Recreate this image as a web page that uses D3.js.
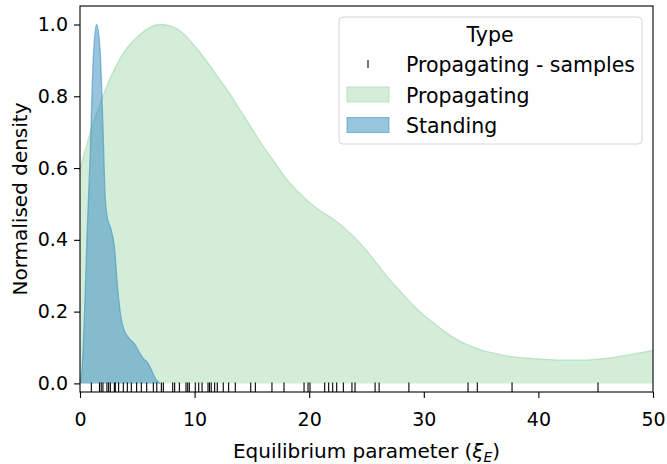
<!DOCTYPE html>
<html>
<head>
<meta charset="utf-8">
<script src="https://cdn.jsdelivr.net/npm/d3@7"></script>
<style>
  body { margin: 0; background: #fff; }
  text { font-family: "DejaVu Sans", sans-serif; fill: #000; }
</style>
</head>
<body>
<div id="chart"></div>
<script>
// data
var propX = [0, 1, 2, 3, 4, 5, 6, 7, 8, 9, 10, 11, 12, 13, 14, 15, 16, 17, 18, 19, 20,
             21, 22, 23, 24, 25, 26, 27, 28, 29, 30, 31, 32, 33, 34, 35, 36, 37, 38, 39, 40,
             42, 44, 46, 48, 50];
var propY = [0.594, 0.71, 0.80, 0.875, 0.93, 0.965, 0.99, 1.0, 0.995, 0.975, 0.94, 0.90, 0.855,
             0.81, 0.76, 0.71, 0.66, 0.615, 0.57, 0.535, 0.505, 0.48, 0.46, 0.435, 0.405, 0.37,
             0.33, 0.29, 0.255, 0.22, 0.19, 0.165, 0.14, 0.12, 0.105, 0.093, 0.085, 0.078, 0.073,
             0.07, 0.068, 0.065, 0.065, 0.07, 0.08, 0.092];

var standX = [0, 0.2, 0.4, 0.6, 0.9, 1.15, 1.45, 1.75, 2.0, 2.2, 2.4, 2.7, 3.0, 3.3, 3.6, 3.9,
              4.3, 4.8, 5.2, 5.5, 5.9, 6.2, 6.6, 7.0];
var standY = [0, 0.05, 0.2, 0.4, 0.65, 0.9, 1.0, 0.93, 0.72, 0.52, 0.46, 0.43, 0.38, 0.26, 0.18,
              0.145, 0.125, 0.108, 0.085, 0.07, 0.058, 0.04, 0.012, 0];

var samples = [0.99, 1.7, 1.85, 2.0, 2.35, 2.5, 2.65, 3.0, 3.08, 3.37, 3.78, 4.13, 4.48, 4.94,
               5.35, 5.82, 6.4, 6.7, 7.1, 7.27, 8.09, 8.26, 8.67, 9.25, 9.4, 9.54, 10.06, 10.36,
               10.65, 11.17, 11.3, 11.45, 11.75, 11.98, 12.5, 12.97, 13.55, 14.9, 15.3, 16.75,
               17.8, 19.55, 19.9, 20.07, 21.35, 21.7, 22.05, 22.4, 22.98, 23.73, 24.0, 25.75,
               26.1, 28.7, 33.86, 34.67, 37.7, 45.2];

var xTicks = [0, 10, 20, 30, 40, 50];
var yTicks = [0, 0.2, 0.4, 0.6, 0.8, 1.0];
var legendLabels = ["Propagating - samples", "Propagating", "Standing"];

// set the dimensions and margins of the graph
var margin = {top: 6, right: 14, bottom: 72, left: 80},
    width = 667 - margin.left - margin.right,
    height = 464 - margin.top - margin.bottom;

var svg = d3.select("#chart")
  .append("svg")
    .attr("width", 667)
    .attr("height", 464)
  .append("g")
    .attr("transform", "translate(" + margin.left + "," + margin.top + ")");

var x = d3.scaleLinear().domain([0, 50]).range([0, width]);
var y = d3.scaleLinear().domain([-0.024, 1.0515]).range([height, 0]);

var area = d3.area()
  .x(function(d) { return x(d[0]); })
  .y0(y(0))
  .y1(function(d) { return y(d[1]); })
  .curve(d3.curveMonotoneX);
var line = d3.line()
  .x(function(d) { return x(d[0]); })
  .y(function(d) { return y(d[1]); })
  .curve(d3.curveMonotoneX);

var propData = propX.map(function(v, i) { return [v, propY[i]]; });
var standData = standX.map(function(v, i) { return [v, standY[i]]; });

// Propagating
svg.append("path").datum(propData)
  .attr("d", area)
  .attr("fill", "#aadcb4").attr("fill-opacity", 0.5);
svg.append("path").datum(propData)
  .attr("d", line)
  .attr("fill", "none").attr("stroke", "#aadcb4").attr("stroke-opacity", 0.7)
  .attr("stroke-width", 1.3);

// Standing
svg.append("path").datum(standData)
  .attr("d", area)
  .attr("fill", "#4393c3").attr("fill-opacity", 0.55);
svg.append("path").datum(standData)
  .attr("d", line)
  .attr("fill", "none").attr("stroke", "#4393c3").attr("stroke-opacity", 0.6)
  .attr("stroke-width", 1.3);

// rug of samples
svg.selectAll("myrug")
  .data(samples)
  .enter()
  .append("line")
    .attr("x1", function(d) { return x(d); })
    .attr("x2", function(d) { return x(d); })
    .attr("y1", height)
    .attr("y2", height - 9.5)
    .attr("stroke", "#000")
    .attr("stroke-width", 1.1);

// axes
svg.append("g")
  .attr("transform", "translate(0," + height + ")")
  .call(d3.axisBottom(x).tickValues(xTicks).tickSize(6).tickPadding(15).tickFormat(d3.format("d")));
svg.append("g")
  .call(d3.axisLeft(y).tickValues(yTicks).tickSize(6).tickPadding(6).tickFormat(d3.format(".1f")));
svg.selectAll(".domain").remove();
svg.selectAll(".tick line").attr("stroke", "#000").attr("stroke-width", 1.1);
svg.selectAll(".tick text")
  .style("font-size", "19px")
  .style("font-family", "DejaVu Sans");

// frame
svg.append("rect")
  .attr("x", 0).attr("y", 0)
  .attr("width", width).attr("height", height)
  .attr("fill", "none").attr("stroke", "#000").attr("stroke-width", 1.1);

// axis labels
var xl = svg.append("text")
  .attr("x", width / 2).attr("y", height + 66)
  .attr("text-anchor", "middle")
  .style("font-size", "20px");
xl.append("tspan").text("Equilibrium parameter (");
xl.append("tspan").text("ξ").style("font-style", "italic");
xl.append("tspan").text("E").style("font-style", "italic").style("font-size", "14px").attr("dy", 4);
xl.append("tspan").text(")").attr("dy", -4);

svg.append("text")
  .attr("transform", "translate(" + (-53) + "," + (height / 2) + ")rotate(-90)")
  .attr("text-anchor", "middle")
  .style("font-size", "20px")
  .text("Normalised density");

// legend
var lg = svg.append("g").attr("transform", "translate(" + (339 - margin.left) + "," + (17 - margin.top) + ")");
lg.append("rect")
  .attr("width", 303).attr("height", 127).attr("rx", 4)
  .attr("fill", "#fff").attr("fill-opacity", 0.8)
  .attr("stroke", "#d6d6d6").attr("stroke-width", 1);
lg.append("text")
  .attr("x", 151).attr("y", 25)
  .attr("text-anchor", "middle")
  .style("font-size", "20.5px")
  .text("Type");
lg.selectAll("mylabels")
  .data(legendLabels)
  .enter()
  .append("text")
    .attr("x", 67)
    .attr("y", function(d, i) { return 55 + i * 30.5; })
    .style("font-size", "20.5px")
    .text(function(d) { return d; });
lg.append("line")
  .attr("x1", 29).attr("x2", 29).attr("y1", 43).attr("y2", 51)
  .attr("stroke", "#000").attr("stroke-width", 1.1);
lg.append("rect")
  .attr("x", 8).attr("y", 70).attr("width", 42).attr("height", 15)
  .attr("fill", "#aadcb4").attr("fill-opacity", 0.5)
  .attr("stroke", "#aadcb4").attr("stroke-opacity", 0.7);
lg.append("rect")
  .attr("x", 8).attr("y", 100.5).attr("width", 42).attr("height", 15)
  .attr("fill", "#4393c3").attr("fill-opacity", 0.55)
  .attr("stroke", "#4393c3").attr("stroke-opacity", 0.6);
</script>
</body>
</html>
